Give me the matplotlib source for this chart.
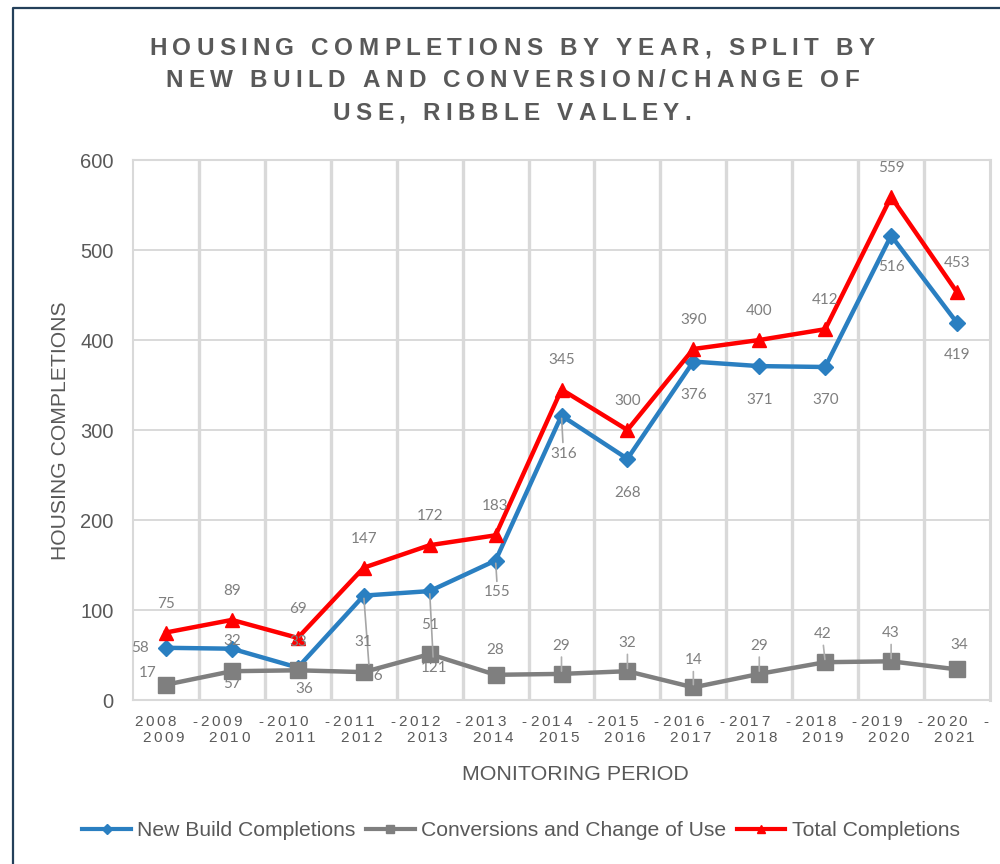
import matplotlib
matplotlib.use('Agg')
import matplotlib.pyplot as plt
from matplotlib.font_manager import FontProperties, findfont, get_font
from matplotlib.transforms import offset_copy, blended_transform_factory
from matplotlib.lines import Line2D
try:
    from matplotlib.ft2font import LoadFlags
    NO_HINT = LoadFlags.NO_HINTING
except ImportError:
    from matplotlib.ft2font import LOAD_NO_HINTING as NO_HINT

# data
perioder = ['2008 - 2009', '2009 - 2010', '2010 - 2011', '2011 - 2012', '2012 - 2013',
            '2013 - 2014', '2014 - 2015', '2015 - 2016', '2016 - 2017', '2017 - 2018',
            '2018 - 2019', '2019 - 2020', '2020 - 2021']
new_build = [58, 57, 36, 116, 121, 155, 316, 268, 376, 371, 370, 516, 419]
conversions = [17, 32, 33, 31, 51, 28, 29, 32, 14, 29, 42, 43, 34]
total = [75, 89, 69, 147, 172, 183, 345, 300, 390, 400, 412, 559, 453]

tittel = ['HOUSING COMPLETIONS BY YEAR, SPLIT BY',
          'NEW BUILD AND CONVERSION/CHANGE OF',
          'USE, RIBBLE VALLEY.']

BLA = '#2a7fc1'
GRA = '#7f7f7f'
ROD = '#ff0000'
TEKST = '#595959'
LABEL = '#7f7f7f'
GRID = '#d9d9d9'

fig = plt.figure(figsize=(10, 8.64), dpi=100)
ax = fig.add_axes([0.133, 1 - 700 / 864, 0.857, 540 / 864])


def spaced_text(x, y, s, transform, size, spacing, weight='normal', color=TEKST, shift=0):
    # text with extra letter spacing (pixels), centred on x, baseline at y
    prop = FontProperties(family='Liberation Sans', size=size, weight=weight)
    font = get_font(findfont(prop))
    font.set_size(size, fig.dpi)
    adv = [font.load_char(ord(c), flags=NO_HINT).linearHoriAdvance / 65536 for c in s]
    bredde = sum(adv) + spacing * (len(s) - 1)
    pos = -bredde / 2 + shift
    for c, a in zip(s, adv):
        if c != ' ':
            fig.text(x, y, c, transform=offset_copy(transform, fig=fig, x=pos, y=0, units='dots'),
                     ha='left', va='baseline', fontproperties=prop, color=color)
        pos += a + spacing


x = list(range(len(perioder)))
ax.plot(x, new_build, color=BLA, lw=3.2, marker='D', ms=8.5, zorder=3)
ax.plot(x, conversions, color=GRA, lw=3.2, marker='s', ms=11, zorder=3)
ax.plot(x, total, color=ROD, lw=3.2, marker='^', ms=10.5, zorder=3)

ax.set_xlim(-0.5, len(perioder) - 0.5)
ax.set_ylim(0, 600)
ax.set_yticks(range(0, 601, 100))
ax.set_xticks(x)
ax.set_xticklabels([])
ax.set_xticks([i + 0.5 for i in x[:-1]], minor=True)
ax.tick_params(axis='both', which='both', length=0)
ax.tick_params(axis='y', pad=14, labelsize=14.5, labelcolor=TEKST)
for t in ax.get_yticklabels():
    t.set_fontfamily('Liberation Sans')
ax.yaxis.grid(True, color=GRID, lw=1.4)
ax.xaxis.grid(True, which='minor', color=GRID, lw=2.4)
ax.set_axisbelow(True)
for side in ax.spines:
    ax.spines[side].set_color(GRID)
    ax.spines[side].set_linewidth(1.5)
ax.spines['right'].set_linewidth(2.2)

# data labels (offsets in pixels)
lab_font = dict(fontsize=11, color=LABEL, family='Lato', ha='center', va='center', zorder=5)
for i, v in enumerate(total):
    ax.annotate(str(v), (i, v), xytext=(0, 29), textcoords='offset pixels', **lab_font)

nb_off = [(-26, 0), (0, -35), (6, -21), (6, -80), (4, -77), (2, -32), (2, -38),
          (0, -34), (0, -33), (0, -34), (0, -33), (0, -31), (0, -32)]
for i, v in enumerate(new_build):
    dx, dy = nb_off[i]
    pil = None
    if i in (3, 4, 5, 6):
        pil = dict(arrowstyle='-', color='#a6a6a6', lw=1.2, shrinkA=1, shrinkB=2)
    ax.annotate(str(v), (i, v), xytext=(dx, dy), textcoords='offset pixels',
                arrowprops=pil, **lab_font)

cv_off = [(-18, 12), (0, 30), (0, 28), (0, 30), (0, 29), (0, 25), (0, 28),
          (0, 28), (0, 27), (0, 28), (-3, 28), (0, 28), (2, 24)]
for i, v in enumerate(conversions):
    dx, dy = cv_off[i]
    pil = None
    if 6 <= i <= 11:
        pil = dict(arrowstyle='-', color='#b0b0b0', lw=1.2, shrinkA=1, shrinkB=2)
    ax.annotate(str(v), (i, v), xytext=(dx, dy), textcoords='offset pixels',
                arrowprops=pil, **lab_font)

# category labels, two lines, spaced out like Excel does it
blend = blended_transform_factory(ax.transData, fig.transFigure)
for i, p in enumerate(perioder):
    a, b = p.split(' - ')
    spaced_text(i, 1 - 726.5 / 864, a + '  -', blend, 11, 2.5)
    spaced_text(i, 1 - 742.5 / 864, b, blend, 11, 2.5, shift=-3)

# title
for k, linje in enumerate(tittel):
    spaced_text(0.512, 1 - (55 + 32.3 * k) / 864, linje, fig.transFigure, 17.5, 5.3, weight='bold')

fig.text(0.061, 1 - 431 / 864, 'HOUSING COMPLETIONS', rotation=90, ha='center', va='center',
         fontsize=15.2, color=TEKST, family='Liberation Sans')
fig.text(0.575, 1 - 775 / 864, 'MONITORING PERIOD', ha='center', va='center',
         fontsize=15.4, color=TEKST, family='Liberation Sans')

handles = [Line2D([], [], color=BLA, lw=3, marker='D', ms=5),
           Line2D([], [], color=GRA, lw=3, marker='s', ms=6),
           Line2D([], [], color=ROD, lw=3, marker='^', ms=6)]
navn = ['New Build Completions', 'Conversions and Change of Use', 'Total Completions']
leg = fig.legend(handles, navn, loc='center', bbox_to_anchor=(0.521, 1 - 831 / 864), ncol=3,
                 frameon=False, handlelength=2.3, handletextpad=0.3, columnspacing=0.5,
                 prop=FontProperties(family='Liberation Sans', size=15.2))
for t in leg.get_texts():
    t.set_color(TEKST)

# outer frame (only left and top visible in the crop)
fig.add_artist(Line2D([0.013, 0.013, 1.01], [-0.01, 1 - 8 / 864, 1 - 8 / 864],
                      transform=fig.transFigure, color='#24405a', lw=1.6))

fig.savefig('out.png', dpi=100)
